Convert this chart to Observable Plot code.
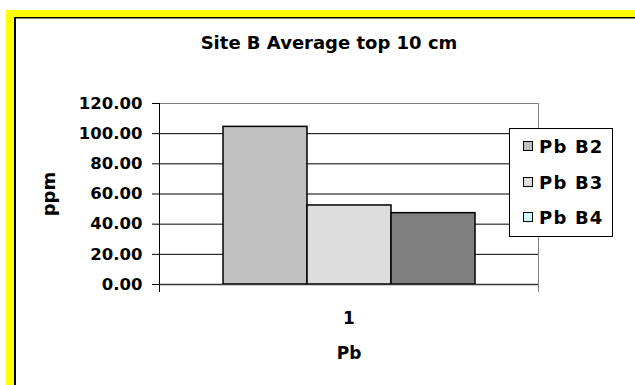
<!DOCTYPE html>
<html>
<head>
<meta charset="utf-8">
<script src="https://cdn.jsdelivr.net/npm/d3@7"></script>
<script src="https://cdn.jsdelivr.net/npm/@observablehq/plot@0.6"></script>
<style>
  body { margin: 0; background: #fff; }
  #chart { position: relative; width: 635px; height: 385px; overflow: hidden;
           font-family: "DejaVu Sans", sans-serif; font-weight: bold; }
  .frame-outer { position: absolute; left: 6px; top: 10px; right: 0; bottom: 0; background: #ffff00; }
  .frame-inner { position: absolute; left: 14px; top: 17px; right: 0; bottom: 0; background: #fff;
                 border-left: 2px solid #000; border-top: 1px solid #000; box-shadow: inset 0 1px 0 #808080; }
  #chart svg { position: absolute; left: 0; top: 0; background: transparent; }
  .legend { position: absolute; left: 509px; top: 128px; width: 102px; height: 107px;
            border: 1px solid #000; background: #fff; }
  .legend .item { position: absolute; left: 13px; height: 20px; display: flex; align-items: center;
                  font-size: 18px; letter-spacing: 1.2px; color: #000; }
  .legend .swatch { width: 8px; height: 8px; border: 1px solid #000; margin-right: 6px; }
</style>
</head>
<body>
<div id="chart">
  <div class="frame-outer"></div>
  <div class="frame-inner"></div>
</div>
<script>
// Average lead (Pb) concentration in the top 10 cm at Site B
const title = "Site B Average top 10 cm";
const categories = ["1"];
const series = ["Pb B2", "Pb B3", "Pb B4"];
const values = [104.5, 52.4, 47.3];
const yTicks = [0, 20, 40, 60, 80, 100, 120];
const barColors = ["#c0c0c0", "#dddddd", "#808080"];
const legendColors = ["#c0c0c0", "#dddddd", "#ccffff"];

const rows = series.map((s, i) => ({category: categories[0], series: s, value: values[i]}));

const chart = Plot.plot({
  width: 635,
  height: 385,
  marginLeft: 159,
  marginRight: 97,
  marginTop: 103,
  marginBottom: 101,
  style: {
    fontFamily: "'DejaVu Sans', sans-serif",
    fontWeight: "bold",
    fontSize: "16.5px",
    color: "#000",
    background: "transparent",
    overflow: "visible"
  },
  fx: {domain: categories, padding: 0, label: "Pb"},
  x: {domain: series, paddingInner: 0, paddingOuter: 0.75, axis: null},
  y: {domain: [0, 120], label: "ppm"},
  color: {domain: series, range: barColors},
  marks: [
    Plot.gridY(yTicks.filter((t) => t > 0 && t < 120), {stroke: "#000", strokeOpacity: 1}),
    Plot.frame({anchor: "top", stroke: "#808080"}),
    Plot.frame({anchor: "right", stroke: "#808080", insetBottom: -7}),
    Plot.barY(rows, {fx: "category", x: "series", y: "value", fill: "series", stroke: "#000", strokeWidth: 1.5}),
    Plot.ruleY([0], {stroke: "#333", strokeWidth: 1.5}),
    Plot.frame({anchor: "left", stroke: "#000", insetBottom: -7}),
    Plot.axisY({
      ticks: yTicks, tickFormat: d3.format(".2f"), tickSize: 7, tickPadding: 10, label: null
    }),
    Plot.axisY({
      ticks: [], tickSize: 0, label: "ppm", labelAnchor: "center", labelArrow: "none",
      labelOffset: 117, fontSize: 18, style: {letterSpacing: "1.5px"}
    }),
    Plot.axisFx({
      anchor: "bottom", tickSize: 0, tickPadding: 27, fontSize: 17,
      label: "Pb", labelAnchor: "center", labelArrow: "none", labelOffset: 74
    }),
    Plot.text([title], {
      frameAnchor: "top", dx: -20, dy: -55, lineAnchor: "bottom", fontSize: 18,
      style: {letterSpacing: "0.5px"}
    })
  ]
});

const root = document.getElementById("chart");
root.appendChild(chart);

// Legend box on the right of the plot area
const legend = document.createElement("div");
legend.className = "legend";
const rowCenters = [17, 53, 88];
series.forEach((name, i) => {
  const item = document.createElement("div");
  item.className = "item";
  item.style.top = (rowCenters[i] - 10) + "px";
  const sw = document.createElement("span");
  sw.className = "swatch";
  sw.style.background = legendColors[i];
  const label = document.createElement("span");
  label.textContent = name;
  item.appendChild(sw);
  item.appendChild(label);
  legend.appendChild(item);
});
root.appendChild(legend);
</script>
</body>
</html>
